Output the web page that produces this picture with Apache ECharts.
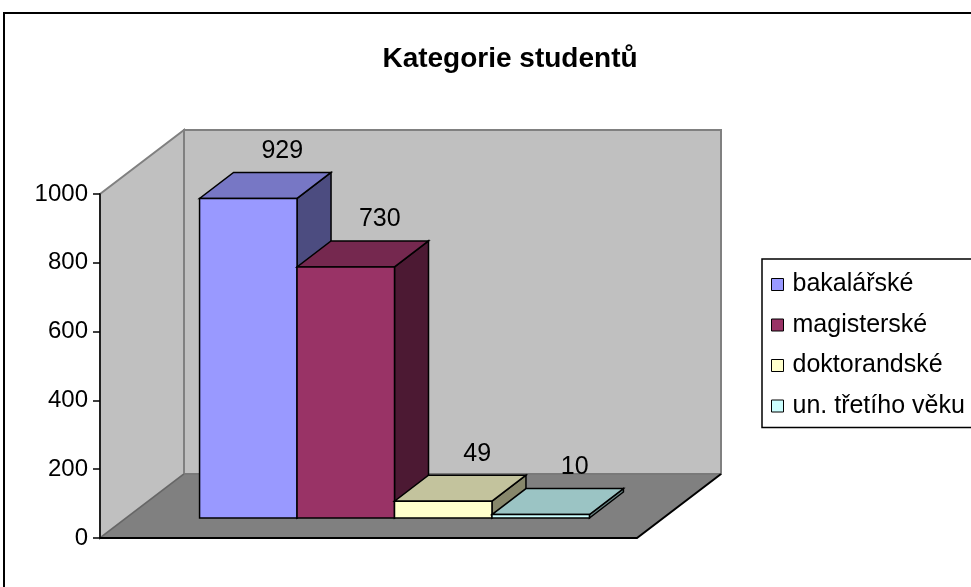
<!DOCTYPE html>
<html><head><meta charset="utf-8">
<script src="https://cdn.jsdelivr.net/npm/echarts@6.0.0/dist/echarts.min.js"></script>
<style>html,body{margin:0;padding:0;background:#fff}#c{width:971px;height:587px}</style>
</head><body><div id="c"></div>
<script>
// ---- data ----
const categories = ['bakalářské', 'magisterské', 'doktorandské', 'un. třetího věku'];
const values = [929, 730, 49, 10];
const yTicks = [0, 200, 400, 600, 800, 1000];
const titleText = 'Kategorie studentů';

// ---- style ----
const FONT = '"Liberation Sans", Arial, sans-serif';
const frontColors = ['#9999FF', '#993366', '#FFFFCC', '#CCFFFF'];
const topColors   = ['#7777C5', '#75284F', '#C3C39D', '#9BC4C4'];
const sideColors  = ['#4C4C80', '#4C1933', '#87876B', '#668080'];
const WALL_DEPTH = [84, -64];
const BAR_FRONT = [26, -20];
const BAR_DEPTH = [34, -26];
const BAR_FRACTION = 0.726;

function poly(points, fill, stroke, lw) {
  return { type: 'polygon', shape: { points: points }, style: { fill: fill, stroke: stroke, lineWidth: lw, lineJoin: 'miter' } };
}

function renderWalls(params, api) {
  const c = api.coord([0, yTicks[0]]);
  const t = api.coord([0, yTicks[yTicks.length - 1]]);
  const bw = api.size([1, 0])[0];
  const L = c[0] - bw / 2, R = c[0] + bw / 2, B = c[1], T = t[1];
  const dx = WALL_DEPTH[0], dy = WALL_DEPTH[1];
  return { type: 'group', children: [
    poly([[L + dx, T + dy], [R + dx, T + dy], [R + dx, B + dy], [L + dx, B + dy]], '#C0C0C0', '#808080', 2),
    poly([[L, T], [L + dx, T + dy], [L + dx, B + dy], [L, B]], '#C0C0C0', '#808080', 2),
    poly([[L, B], [R, B], [R + dx, B + dy], [L + dx, B + dy]], '#808080', null, 0),
    { type: 'line', shape: { x1: L, y1: B, x2: L + dx, y2: B + dy }, style: { stroke: '#666', lineWidth: 1.5 } },
    { type: 'line', shape: { x1: L + dx, y1: B + dy, x2: R + dx, y2: B + dy }, style: { stroke: '#777', lineWidth: 1.5 } },
    { type: 'polyline', shape: { points: [[L, B], [R, B], [R + dx, B + dy]] }, style: { stroke: '#000', lineWidth: 2, fill: null } }
  ] };
}

function makeBarRenderer(i) {
  return function (params, api) {
    const val = api.value(1);
    const base = api.coord([0, 0]);
    const topP = api.coord([0, val]);
    const bw = api.size([1, 0])[0];
    const n = categories.length;
    const w = bw * BAR_FRACTION / n;
    const x0 = base[0] - w * n / 2 + i * w + BAR_FRONT[0];
    const x1 = x0 + w;
    const y0 = base[1] + BAR_FRONT[1];
    const y1 = topP[1] + BAR_FRONT[1];
    const dx = BAR_DEPTH[0], dy = BAR_DEPTH[1];
    return { type: 'group', children: [
      poly([[x1, y0], [x1, y1], [x1 + dx, y1 + dy], [x1 + dx, y0 + dy]], sideColors[i], '#000', 1.5),
      poly([[x0, y1], [x1, y1], [x1 + dx, y1 + dy], [x0 + dx, y1 + dy]], topColors[i], '#000', 1.5),
      poly([[x0, y0], [x1, y0], [x1, y1], [x0, y1]], frontColors[i], '#000', 1.5),
      { type: 'text', style: { text: String(val), x: (x0 + x1) / 2 + dx, y: y1 + dy - 9,
        align: 'center', verticalAlign: 'bottom', fontFamily: FONT, fontSize: 25, fill: '#000' } }
    ] };
  };
}

const series = [{
  type: 'custom', name: '_walls', silent: true, z: 1,
  data: [[0, 0]], renderItem: renderWalls
}];
categories.forEach(function (name, i) {
  series.push({
    type: 'custom', name: name, z: 2 + i, silent: true,
    itemStyle: { color: frontColors[i] },
    data: [[0, values[i]]], renderItem: makeBarRenderer(i)
  });
});

const chart = echarts.init(document.getElementById('c'), null, { renderer: 'canvas' });
chart.setOption({
  animation: false,
  backgroundColor: '#fff',
  title: { text: titleText, left: 510, top: 45, textAlign: 'center', padding: 0,
    textStyle: { fontFamily: FONT, fontSize: 28, fontWeight: 'bold', color: '#000' } },
  graphic: [{ type: 'rect', shape: { x: 4, y: 13, width: 1100, height: 700 }, style: { fill: null, stroke: '#000', lineWidth: 2 }, z: 100 }],
  grid: { left: 100, top: 194, width: 537, height: 344 },
  xAxis: { type: 'category', data: [''], show: false },
  yAxis: {
    type: 'value', min: yTicks[0], max: yTicks[yTicks.length - 1], interval: yTicks[1] - yTicks[0], z: 10,
    axisLine: { show: true, lineStyle: { color: '#000', width: 1.5 } },
    axisTick: { show: true, length: 7, lineStyle: { color: '#000', width: 1.5 } },
    axisLabel: { margin: 12, fontFamily: FONT, fontSize: 24, color: '#000', formatter: function (v) { return String(v); } },
    splitLine: { show: false }
  },
  legend: {
    orient: 'vertical', left: 762, top: 259, padding: [13, 10, 9, 9], itemGap: 15.5,
    itemWidth: 12, itemHeight: 12, icon: 'rect', borderColor: '#000', borderWidth: 1.5,
    itemStyle: { borderColor: '#000', borderWidth: 1 },
    textStyle: { fontFamily: FONT, fontSize: 25, color: '#000', lineHeight: 25, padding: [0, 0, 0, 4] },
    data: categories, selectedMode: false
  },
  series: series
});
</script>
</body></html>
